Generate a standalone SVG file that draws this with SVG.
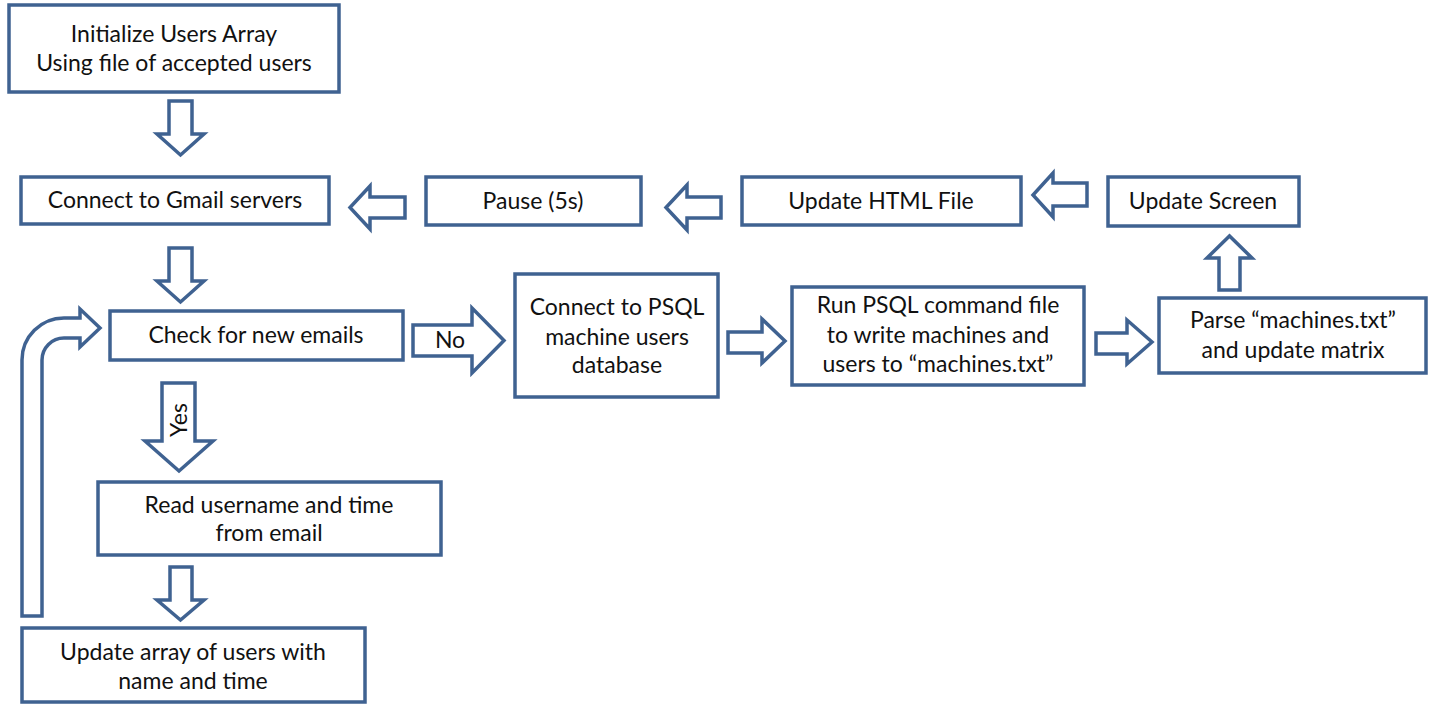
<svg xmlns="http://www.w3.org/2000/svg" width="1434" height="704" viewBox="0 0 1434 704">
<style>
.box{fill:#fff;stroke:#3f6291;stroke-width:3.5}
.arr{fill:#fff;stroke:#3f6291;stroke-width:3.5;stroke-linejoin:miter}
text{font-family:Lato,"Liberation Sans",sans-serif;font-size:23px;fill:#111;text-anchor:middle}
</style>
<rect width="1434" height="704" fill="#fff"/>
<g id="connectors">
<polygon class="arr" points="169,101 192,101 192,134 204,134 180.5,155 157,134 169,134"/>
<polygon class="arr" points="169,248 192,248 192,281 204,281 180.5,302 157,281 169,281"/>
<polygon class="arr" points="170,567 192,567 192,600 204,600 180.5,620 157,600 170,600"/>
<polygon class="arr" points="405,197 370,197 370,186 350,207.5 370,229 370,218 405,218"/>
<polygon class="arr" points="721,197 687,197 687,185 666,207.5 687,230 687,218 721,218"/>
<polygon class="arr" points="1087,183 1053,183 1053,173 1033,195 1053,217 1053,206 1087,206"/>
<polygon class="arr" points="1219,290 1219,258 1207,258 1229.5,236 1252,258 1240,258 1240,290"/>
<polygon class="arr" points="728,332 762,332 762,319 785,341 762,363 762,353 728,353"/>
<polygon class="arr" points="1096,333 1127,333 1127,320 1152,342 1127,364 1127,354 1096,354"/>
<g id="edge-no">
<polygon class="arr" points="413,325 472,325 472,308 504,340.5 472,373 472,356 413,356"/>
<text x="450" y="348">No</text>
</g>
<g id="edge-yes">
<polygon class="arr" points="162,383 195,383 195,441 213,441 179,471 145,441 162,441"/>
<text transform="translate(187,420) rotate(-90)">Yes</text>
</g>
<path class="arr" d="M22,616 L22,360 A42,42 0 0 1 64,318 L80,318 L80,309 L100,328 L80,347 L80,338 L64,338 A22,22 0 0 0 42,360 L42,616 Z"/>
</g>
<g id="n1"><rect class="box" x="9" y="5" width="330" height="87"/><text x="174" y="42">Initialize Users Array</text><text x="174" y="71">Using file of accepted users</text></g>
<g id="n2"><rect class="box" x="21" y="177" width="308" height="47"/><text x="175" y="208">Connect to Gmail servers</text></g>
<g id="n3"><rect class="box" x="426" y="177" width="215" height="48"/><text x="533" y="209">Pause (5s)</text></g>
<g id="n4"><rect class="box" x="742" y="177" width="279" height="48"/><text x="881" y="209">Update HTML File</text></g>
<g id="n5"><rect class="box" x="1108" y="177" width="191" height="49"/><text x="1203" y="209">Update Screen</text></g>
<g id="n6"><rect class="box" x="110" y="311" width="293" height="49"/><text x="256" y="343">Check for new emails</text></g>
<g id="n7"><rect class="box" x="515" y="274" width="203" height="123"/><text x="617" y="315">Connect to PSQL</text><text x="617" y="345">machine users</text><text x="617" y="373">database</text></g>
<g id="n8"><rect class="box" x="792" y="287" width="292" height="98"/><text x="938" y="313">Run PSQL command file</text><text x="938" y="343">to write machines and</text><text x="938" y="372">users to “machines.txt”</text></g>
<g id="n9"><rect class="box" x="1159" y="298" width="267" height="75"/><text x="1293" y="328">Parse “machines.txt”</text><text x="1293" y="358">and update matrix</text></g>
<g id="n10"><rect class="box" x="98" y="482" width="343" height="73"/><text x="269" y="513">Read username and time</text><text x="269" y="541">from email</text></g>
<g id="n11"><rect class="box" x="22" y="628" width="343" height="74"/><text x="193" y="660">Update array of users with</text><text x="193" y="689">name and time</text></g>
</svg>
